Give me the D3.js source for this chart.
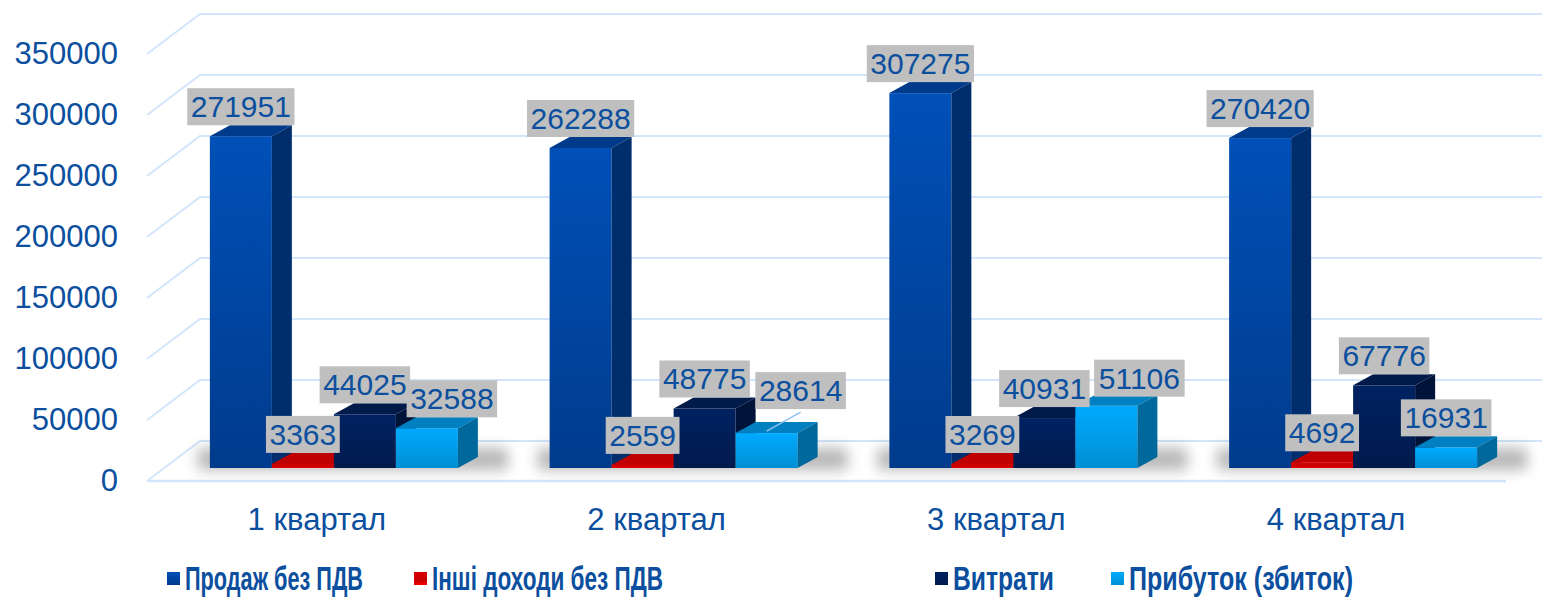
<!DOCTYPE html>
<html>
<head>
<meta charset="utf-8">
<script src="https://cdn.jsdelivr.net/npm/d3@7"></script>
<style>
  html, body { margin: 0; padding: 0; background: #fff; }
  svg { display: block; font-family: "Liberation Sans", Arial, sans-serif; }
</style>
</head>
<body>
<div id="chart"></div>
<script>
// data
const categories = ["1 квартал", "2 квартал", "3 квартал", "4 квартал"];
const seriesNames = ["Продаж без ПДВ", "Інші доходи без ПДВ", "Витрати", "Прибуток (збиток)"];
const sales = [271951, 262288, 307275, 270420];
const otherIncome = [3363, 2559, 3269, 4692];
const expenses = [44025, 48775, 40931, 67776];
const profit = [32588, 28614, 51106, 16931];
const yTicks = [0, 50000, 100000, 150000, 200000, 250000, 300000, 350000];

const seriesValues = [sales, otherIncome, expenses, profit];

// colours per series: front gradient top/bottom, top face, side face
const palette = [
    { top: "#0050b8", bottom: "#003b8c", cap: "#003a8a", side: "#002e6c" },
    { top: "#d80000", bottom: "#ff0000", cap: "#c00000", side: "#900000" },
    { top: "#002262", bottom: "#001a4c", cap: "#001a4a", side: "#00143a" },
    { top: "#00aaff", bottom: "#008fd4", cap: "#0080c0", side: "#00689a" }
];

const width = 1542;
const height = 599;
const textColor = "#0b4f9e";
const gridColor = "#d2e5fb";

// floor / wall geometry
const floorLeft = 147, floorRight = 1506;
const wallDx = 53, wallDy = -40;      // slant of the side wall lines
const setBack = [17, -13];            // bars stand back from the front edge
const depth = [20, -11];              // bar depth

const x = d3.scaleBand()
    .domain(categories)
    .range([floorLeft, floorRight])
    .paddingInner(0.27)
    .paddingOuter(0.135);

const xs = d3.scaleBand()
    .domain(seriesNames)
    .range([0, x.bandwidth()]);

const y = d3.scaleLinear()
    .domain([0, 350000])
    .range([481, 54]);

const svg = d3.select("#chart")
    .append("svg")
    .attr("width", width)
    .attr("height", height)
    .attr("viewBox", [0, 0, width, height]);

const defs = svg.append("defs");
palette.forEach((p, i) => {
    const g = defs.append("linearGradient")
        .attr("id", "front" + i)
        .attr("x1", 0).attr("y1", 0).attr("x2", 0).attr("y2", 1);
    g.append("stop").attr("offset", "0%").attr("stop-color", p.top);
    g.append("stop").attr("offset", i == 1 ? "70%" : "100%").attr("stop-color", i == 1 ? "#c80000" : p.bottom);
    if (i == 1) g.append("stop").attr("offset", "100%").attr("stop-color", p.bottom);
});
defs.append("filter")
    .attr("id", "shadow")
    .attr("x", "-20%").attr("y", "-100%").attr("width", "140%").attr("height", "300%")
    .append("feGaussianBlur")
    .attr("stdDeviation", 7);

// gridlines: front point -> back wall -> across
svg.append("g")
    .attr("fill", "none")
    .attr("stroke", gridColor)
    .attr("stroke-width", 2)
    .selectAll()
    .data(yTicks)
    .join("path")
    .attr("d", d => `M${floorLeft},${y(d)}L${floorLeft + wallDx},${y(d) + wallDy}L${width + 20},${y(d) + wallDy}`);

// front edge of the floor
svg.append("line")
    .attr("x1", floorLeft).attr("x2", floorRight)
    .attr("y1", y(0)).attr("y2", y(0))
    .attr("stroke", gridColor)
    .attr("stroke-width", 2.5);

// y axis labels
svg.append("g")
    .attr("transform", "translate(118,0)")
    .call(d3.axisLeft(y).tickValues(yTicks).tickSize(0).tickPadding(0).tickFormat(d3.format("d")))
    .call(g => g.select(".domain").remove())
    .selectAll("text")
    .attr("fill", textColor)
    .style("font-family", "'Liberation Sans', Arial, sans-serif")
    .style("font-size", "31px");

// category labels
svg.append("g")
    .attr("transform", `translate(0,${y(0)})`)
    .call(d3.axisBottom(x).tickSize(0).tickPadding(27))
    .call(g => g.select(".domain").remove())
    .selectAll("text")
    .attr("fill", textColor)
    .style("font-family", "'Liberation Sans', Arial, sans-serif")
    .style("font-size", "31px");

// bars
const base = y(0) + setBack[1];
const groups = svg.append("g")
    .selectAll()
    .data(categories)
    .join("g")
    .attr("transform", d => `translate(${x(d) + setBack[0]},0)`);

// soft shadow on the floor
groups.append("rect")
    .attr("x", -12)
    .attr("y", base - 20)
    .attr("width", x.bandwidth() + 62)
    .attr("height", 22)
    .attr("fill", "#000")
    .attr("opacity", 0.28)
    .attr("filter", "url(#shadow)");

groups.each(function (cat, ci) {
    const g = d3.select(this);
    seriesNames.forEach((s, si) => {
        const v = seriesValues[si][ci];
        const x0 = xs(s), x1 = xs(s) + xs.bandwidth();
        const yt = y(v) + setBack[1];
        const p = palette[si];
        g.append("rect")
            .attr("x", x0).attr("y", yt)
            .attr("width", xs.bandwidth()).attr("height", base - yt)
            .attr("fill", `url(#front${si})`);
        g.append("path")
            .attr("d", `M${x0},${yt}L${x0 + depth[0]},${yt + depth[1]}L${x1 + depth[0]},${yt + depth[1]}L${x1},${yt}Z`)
            .attr("fill", p.cap);
        g.append("path")
            .attr("d", `M${x1},${yt}L${x1 + depth[0]},${yt + depth[1]}L${x1 + depth[0]},${base + depth[1]}L${x1},${base}Z`)
            .attr("fill", p.side);
    });
});

// data labels (the profit labels were dragged aside in the original)
const labelNudge = [
    [[0, 0], [0, 0], [0, 0], [25, 0]],
    [[0, 0], [0, 0], [0, 0], [34, -13]],
    [[0, 0], [0, 0], [0, 0], [33, 2]],
    [[0, 0], [0, 0], [0, 0], [0, 0]]
];

groups.each(function (cat, ci) {
    const g = d3.select(this);
    seriesNames.forEach((s, si) => {
        const v = seriesValues[si][ci];
        const [nx, ny] = labelNudge[ci][si];
        const cx = xs(s) + xs.bandwidth() / 2 + nx;
        const bottom = y(v) + setBack[1] + depth[1] + ny;
        const txt = String(v);
        const w = txt.length * 16.7 + 7;
        if (nx > 30 && ny < 0) {
            g.append("line")
                .attr("x1", xs(s) + xs.bandwidth() / 2).attr("y1", y(v) + setBack[1] - 2)
                .attr("x2", cx).attr("y2", bottom + 3)
                .attr("stroke", "#8fc0f2")
                .attr("stroke-width", 1.5);
        }
        g.append("rect")
            .attr("x", cx - w / 2).attr("y", bottom - 37)
            .attr("width", w).attr("height", 37)
            .attr("fill", "#bfbfbf");
        g.append("text")
            .attr("x", cx).attr("y", bottom - 8)
            .attr("text-anchor", "middle")
            .attr("fill", textColor)
            .style("font-size", "30px")
            .text(txt);
    });
});

// legend
const legendX = [167, 414, 935, 1111];
const legendW = [178, 231, 101, 224];
const legend = svg.append("g")
    .selectAll()
    .data(seriesNames)
    .join("g")
    .attr("transform", (d, i) => `translate(${legendX[i]},572)`);

legend.append("rect")
    .attr("width", 13).attr("height", 13)
    .attr("fill", (d, i) => `url(#front${i})`);

legend.append("text")
    .attr("x", 18)
    .attr("y", 18)
    .attr("fill", textColor)
    .attr("textLength", (d, i) => legendW[i])
    .attr("lengthAdjust", "spacingAndGlyphs")
    .style("font-family", "'Liberation Sans Narrow', 'Liberation Sans', Arial, sans-serif")
    .style("font-weight", "bold")
    .style("font-size", "33px")
    .text(d => d);
</script>
</body>
</html>
